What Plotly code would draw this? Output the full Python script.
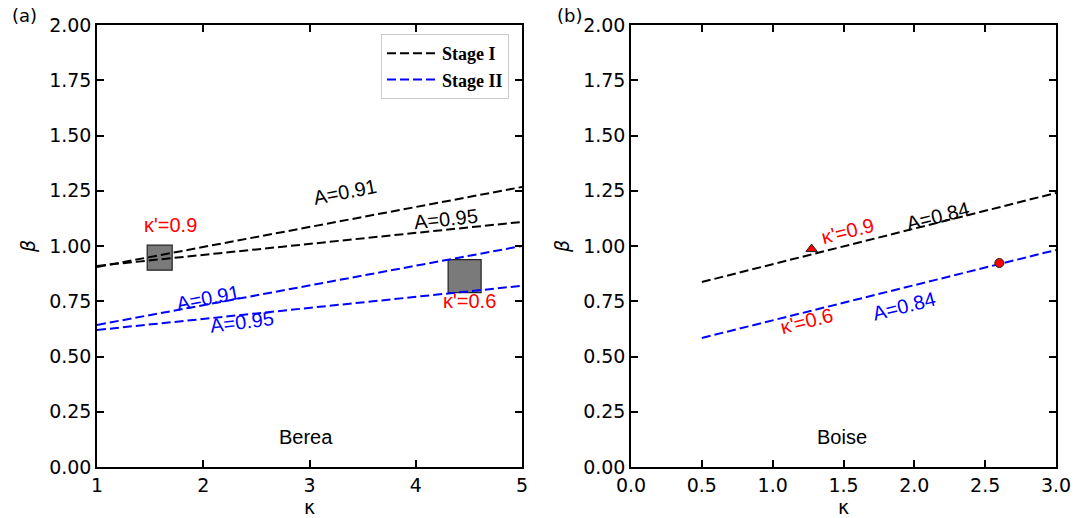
import plotly.graph_objects as go

# ---- data ----
kappa_a = [1, 5]
stage1_a091 = [0.905, 1.267]
stage1_a095 = [0.910, 1.109]
stage2_a091 = [0.643, 1.000]
stage2_a095 = [0.620, 0.820]

kappa_b = [0.5, 3.0]
stage1_b084 = [0.837, 1.240]
stage2_b084 = [0.584, 0.982]

sq_kappa = [1.59, 4.46]
sq_beta = [0.947, 0.864]
sq_size = [25, 33]

tri_kappa = [1.275]
tri_beta = [0.986]
circ_kappa = [2.60]
circ_beta = [0.923]

yticks = [0, 0.25, 0.5, 0.75, 1.0, 1.25, 1.5, 1.75, 2.0]
ytext = ["0.00", "0.25", "0.50", "0.75", "1.00", "1.25", "1.50", "1.75", "2.00"]

BLACK = "black"
BLUE = "#0000ff"
RED = "#ff0000"
DASH = "9px,4px"

fig = go.Figure()

def line(x, y, color, name, show, xa="x", ya="y"):
    fig.add_trace(go.Scatter(x=x, y=y, mode="lines", name=name, showlegend=show,
                             line=dict(color=color, width=2, dash=DASH),
                             xaxis=xa, yaxis=ya))

fig.add_trace(go.Scatter(x=sq_kappa, y=sq_beta, mode="markers", showlegend=False,
                         marker=dict(symbol="square", size=sq_size, color="#7a7a7a", opacity=1,
                                     line=dict(color="#222222", width=1.2)),
                         xaxis="x", yaxis="y"))

line(kappa_a, stage1_a091, BLACK, "Stage I", True)
line(kappa_a, stage1_a095, BLACK, "Stage I", False)
line(kappa_a, stage2_a091, BLUE, "Stage II", True)
line(kappa_a, stage2_a095, BLUE, "Stage II", False)

line(kappa_b, stage1_b084, BLACK, "Stage I", False, "x2", "y2")
line(kappa_b, stage2_b084, BLUE, "Stage II", False, "x2", "y2")

fig.add_trace(go.Scatter(x=tri_kappa, y=tri_beta, mode="markers", showlegend=False,
                         marker=dict(symbol="triangle-up", size=10, color=RED,
                                     line=dict(color="#222222", width=1)),
                         xaxis="x2", yaxis="y2"))
fig.add_trace(go.Scatter(x=circ_kappa, y=circ_beta, mode="markers", showlegend=False,
                         marker=dict(symbol="circle", size=9, color=RED,
                                     line=dict(color="#222222", width=1)),
                         xaxis="x2", yaxis="y2"))

AFONT = "Liberation Sans, Arial, sans-serif"
TFONT = "DejaVu Sans, sans-serif"

anns = [
    # panel a
    dict(x=1.69, y=1.095, text="κ'=0.9", color=RED, angle=0, xr="x", yr="y"),
    dict(x=4.51, y=0.75, text="κ'=0.6", color=RED, angle=0, xr="x", yr="y"),
    dict(x=3.33, y=1.245, text="A=0.91", color=BLACK, angle=-11, xr="x", yr="y"),
    dict(x=4.28, y=1.12, text="A=0.95", color=BLACK, angle=-6, xr="x", yr="y"),
    dict(x=2.04, y=0.765, text="A=0.91", color=BLUE, angle=-11, xr="x", yr="y"),
    dict(x=2.36, y=0.655, text="A=0.95", color=BLUE, angle=-7, xr="x", yr="y"),
    dict(x=2.97, y=0.136, text="Berea", color=BLACK, angle=0, xr="x", yr="y"),
    # panel b
    dict(x=1.53, y=1.07, text="κ'=0.9", color=RED, angle=-14, xr="x2", yr="y2"),
    dict(x=2.17, y=1.135, text="A=0.84", color=BLACK, angle=-14, xr="x2", yr="y2"),
    dict(x=1.24, y=0.66, text="κ'=0.6", color=RED, angle=-14, xr="x2", yr="y2"),
    dict(x=1.93, y=0.73, text="A=0.84", color=BLUE, angle=-14, xr="x2", yr="y2"),
    dict(x=1.49, y=0.136, text="Boise", color=BLACK, angle=0, xr="x2", yr="y2"),
]
W, H = 1089, 518
annotations = []
for a in anns:
    annotations.append(dict(x=a["x"], y=a["y"], xref=a["xr"], yref=a["yr"], text=a["text"],
                            showarrow=False, textangle=a["angle"],
                            font=dict(family=AFONT, size=20, color=a["color"])))
for lbl, px, py in [("(a)", 24, 15), ("(b)", 569, 15)]:
    annotations.append(dict(x=px / W, y=1 - py / H, xref="paper", yref="paper", text=lbl,
                            showarrow=False, xanchor="center", yanchor="middle",
                            font=dict(family=TFONT, size=18, color="black")))

axis_common = dict(showgrid=False, zeroline=False, showline=True, linecolor="black", linewidth=1.5,
                   mirror="ticks", ticks="inside", ticklen=7, tickwidth=1.5, tickcolor="black",
                   automargin=False,
                   tickfont=dict(family=TFONT, size=19, color="black"))
tfont = dict(family=TFONT, size=19, color="black")

fig.update_layout(
    width=W, height=H,
    margin=dict(l=0, r=0, t=0, b=0),
    plot_bgcolor="white", paper_bgcolor="white",
    annotations=annotations,
    xaxis=dict(domain=[97 / W, 522 / W], range=[1, 5], tickvals=[1, 2, 3, 4, 5],
               title=dict(text="κ", font=tfont, standoff=4),
               anchor="y", **axis_common),
    yaxis=dict(domain=[1 - 467 / H, 1 - 25 / H], range=[0, 2], tickvals=yticks, ticktext=ytext,
               title=dict(text="<i>β</i>", font=tfont, standoff=8),
               anchor="x", **axis_common),
    xaxis2=dict(domain=[631 / W, 1056 / W], range=[0, 3], tickvals=[0, 0.5, 1, 1.5, 2, 2.5, 3],
                ticktext=["0.0", "0.5", "1.0", "1.5", "2.0", "2.5", "3.0"],
                title=dict(text="κ", font=tfont, standoff=4),
                anchor="y2", **axis_common),
    yaxis2=dict(domain=[1 - 467 / H, 1 - 25 / H], range=[0, 2], tickvals=yticks, ticktext=ytext,
                title=dict(text="<i>β</i>", font=tfont, standoff=8),
                anchor="x2", **axis_common),
    legend=dict(x=381 / W, y=1 - 34 / H, xanchor="left", yanchor="top",
                bgcolor="white", bordercolor="#cccccc", borderwidth=1,
                font=dict(family="Liberation Serif, Times New Roman, serif", size=18,
                          color="black", weight="bold"),
                itemwidth=50, tracegroupgap=2),
)

fig.write_html("out.html", config={"displayModeBar": False},
               post_script="document.body.style.margin='0px';document.body.style.overflow='hidden';")
